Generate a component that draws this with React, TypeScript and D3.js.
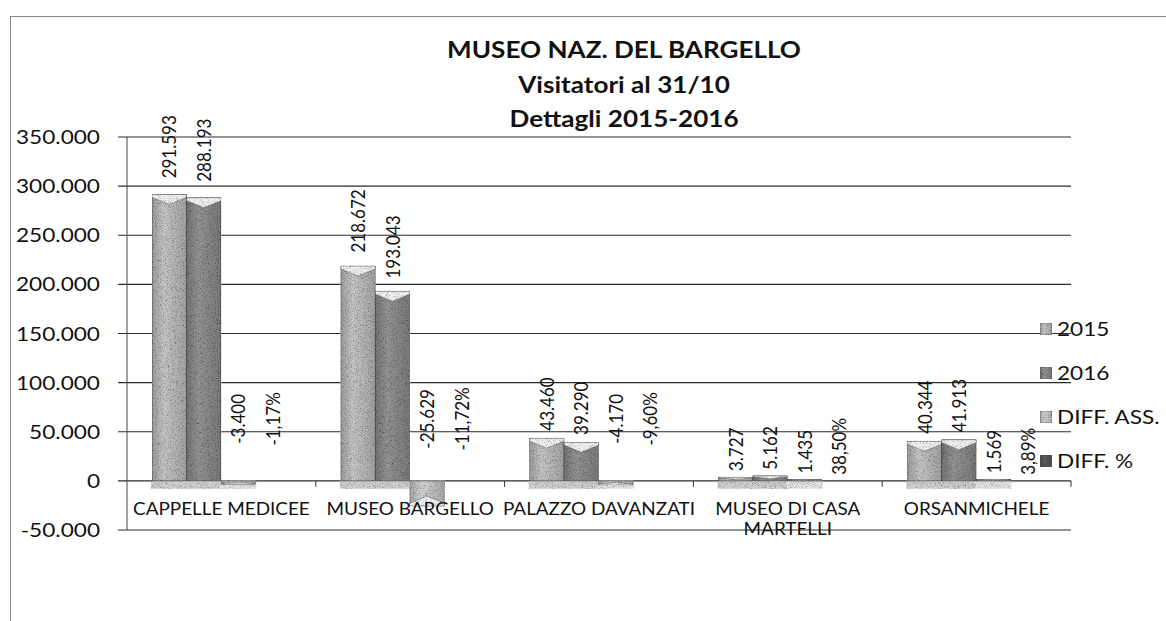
import React, { useMemo } from 'react';
import * as d3 from 'd3';

// chart data
const CATEGORIES = ['CAPPELLE MEDICEE', 'MUSEO BARGELLO', 'PALAZZO DAVANZATI', 'MUSEO DI CASA MARTELLI', 'ORSANMICHELE'];
const SERIES = ['2015', '2016', 'DIFF. ASS.', 'DIFF. %'];
const VISITORS_2015 = [291593, 218672, 43460, 3727, 40344];
const VISITORS_2016 = [288193, 193043, 39290, 5162, 41913];
const DIFF_ASS = [-3400, -25629, -4170, 1435, 1569];
const DIFF_PCT = [-1.17, -11.72, -9.6, 38.5, 3.89];
const Y_TICKS = [-50000, 0, 50000, 100000, 150000, 200000, 250000, 300000, 350000];
const TITLE = ['MUSEO NAZ. DEL BARGELLO', 'Visitatori al 31/10', 'Dettagli 2015-2016'];

const W = 1166;
const H = 621;
const SX = 1.16; // the scan is stretched sideways, so is the text
const FONT = 'Lato, "Open Sans", sans-serif';

const SERIES_FILL: Record<string, string> = {
  '2015': '#bcbcbc',
  '2016': '#8c8c8c',
  'DIFF. ASS.': '#c8c8c8',
  'DIFF. %': '#5a5a5a',
};

const it = d3.formatLocale({ decimal: ',', thousands: '.', grouping: [3], currency: ['€', ''], minus: '-' });
const fmtInt = it.format(',d');
const fmtPct = (v: number) => it.format('.2f')(v) + '%';

const rows = CATEGORIES.map((c, i) => ({
  cat: c,
  values: [
    { key: '2015', v: VISITORS_2015[i], label: fmtInt(VISITORS_2015[i]) },
    { key: '2016', v: VISITORS_2016[i], label: fmtInt(VISITORS_2016[i]) },
    { key: 'DIFF. ASS.', v: DIFF_ASS[i], label: fmtInt(DIFF_ASS[i]) },
    { key: 'DIFF. %', v: DIFF_PCT[i], label: fmtPct(DIFF_PCT[i]) },
  ],
}));

const CAT_FS = 16.3;

function wrapLabel(text: string, maxW: number): string[] {
  const ctx = document.createElement('canvas').getContext('2d');
  if (!ctx) return [text];
  ctx.font = `${CAT_FS}px Lato`;
  const words = text.split(' ');
  const lines: string[] = [];
  let cur = '';
  words.forEach(w => {
    const test = cur ? cur + ' ' + w : w;
    if (cur && ctx.measureText(test).width * SX > maxW) {
      lines.push(cur);
      cur = w;
    } else cur = test;
  });
  lines.push(cur);
  return lines;
}

const App = () => {
  const x = d3.scaleBand().domain(CATEGORIES).range([127, 1071]).padding(0);
  const bw = x.bandwidth();
  const inner = d3.scaleBand().domain(SERIES).range([25, 25 + 4 * 34.5]).padding(0);
  const y = d3.scaleLinear().domain([-50000, 350000]).range([530, 137]);
  const y0 = y(0);

  // labels only wrap when clearly wider than the category slot
  const catLines = useMemo(() => CATEGORIES.map(c => wrapLabel(c, bw * 1.06)), [bw]);

  const stretched = (tx: number, ty: number, rot = false) =>
    `translate(${tx},${ty}) scale(${SX},1)${rot ? ' rotate(-90)' : ''}`;

  return (
    <svg width={W} height={H} style={{ position: 'absolute', left: 0, top: 0, background: '#fff' }}
      fontFamily={FONT}>
      <defs>
        <filter id="grain" x="0" y="0" width="100%" height="100%">
          <feTurbulence type="fractalNoise" baseFrequency="1.4" numOctaves="2" seed="7" result="noise" />
          <feColorMatrix in="noise" type="matrix"
            values="0.33 0.33 0.33 0 0  0.33 0.33 0.33 0 0  0.33 0.33 0.33 0 0  0 0 0 0 1" result="gray" />
          <feComponentTransfer in="gray" result="g2">
            <feFuncR type="linear" slope="3" intercept="-0.55" />
            <feFuncG type="linear" slope="3" intercept="-0.55" />
            <feFuncB type="linear" slope="3" intercept="-0.55" />
          </feComponentTransfer>
          <feBlend in="SourceGraphic" in2="g2" mode="multiply" result="b" />
          <feComposite in="b" in2="SourceGraphic" operator="in" />
        </filter>
        {SERIES.map((s, i) => (
          <linearGradient key={s} id={`bar${i}`} x1="0" x2="1" y1="0" y2="0">
            <stop offset="0%" stopColor={d3.color(SERIES_FILL[s])!.darker(0.5).formatHex()} />
            <stop offset="35%" stopColor={d3.color(SERIES_FILL[s])!.brighter(0.15).formatHex()} />
            <stop offset="100%" stopColor={d3.color(SERIES_FILL[s])!.darker(0.4).formatHex()} />
          </linearGradient>
        ))}
      </defs>

      {/* chart frame */}
      <rect x={10.5} y={16.5} width={1160} height={700} fill="none" stroke="#8a8a8a" strokeWidth={1} />

      {/* title */}
      {TITLE.map((t, i) => (
        <text key={t} transform={stretched(624, 58 + i * 34.5)} textAnchor="middle"
          fontSize={22.5} fontWeight="bold" fill="#111">{t}</text>
      ))}

      {/* gridlines and value axis */}
      {Y_TICKS.map(t => (
        <g key={t}>
          <line x1={118} x2={1071} y1={y(t)} y2={y(t)} stroke="#2a2a2a" strokeWidth={1.1} />
          <text transform={stretched(100, y(t))} dy="0.36em" textAnchor="end" fontSize={19.5} fill="#111">
            {fmtInt(t)}
          </text>
        </g>
      ))}
      <line x1={127} x2={127} y1={y(350000)} y2={y(-50000)} stroke="#444" strokeWidth={1} />
      {CATEGORIES.map(c => (
        <line key={c} x1={x(c)! + bw} x2={x(c)! + bw} y1={y0} y2={y0 + 6} stroke="#333" strokeWidth={1} />
      ))}

      {/* floor shadow under the columns */}
      <g filter="url(#grain)">
        {rows.map(r => r.values.filter(d => d.key !== 'DIFF. %').map(d => {
          const bx = x(r.cat)! + inner(d.key)!;
          return (
            <rect key={r.cat + d.key} x={bx - 1} y={y0 + 1} width={inner.bandwidth() + 2} height={7}
              fill={d.key === 'DIFF. ASS.' ? '#e6e6e6' : '#d0d0d0'} />
          );
        }))}
      </g>

      {/* columns */}
      <g filter="url(#grain)">
        {rows.map(r => r.values.map((d, si) => {
          const bx = x(r.cat)! + inner(d.key)!;
          const w = inner.bandwidth();
          const top = Math.min(y(d.v), y0);
          const h = Math.abs(y(d.v) - y0);
          if (h < 0.5) return null;
          const capH = Math.min(10, h * 0.6);
          const edge = d.v >= 0 ? top : top + h;
          const dir = d.v >= 0 ? 1 : -1;
          const cap = [
            [bx, edge], [bx + w, edge], [bx + w, edge + dir * capH * 0.3],
            [bx + w / 2, edge + dir * capH], [bx, edge + dir * capH * 0.3],
          ].map(p => p.join(',')).join(' ');
          return (
            <g key={r.cat + d.key}>
              <rect x={bx} y={top} width={w} height={h} fill={`url(#bar${si})`}
                stroke="#3a3a3a" strokeWidth={0.7} />
              <polygon points={cap} fill="#f2f2f2" stroke="#555" strokeWidth={0.5} />
            </g>
          );
        }))}
      </g>

      {/* data labels */}
      {rows.map(r => r.values.map(d => {
        const cx = x(r.cat)! + inner(d.key)! + inner.bandwidth() / 2;
        if (d.v >= 0) {
          const yt = y(d.v);
          const start = yt - 6 - 0.035 * (y0 - yt);
          return (
            <text key={r.cat + d.key} transform={stretched(cx, start, true)} dy="0.36em"
              textAnchor="start" fontSize={17} fill="#111">{d.label}</text>
          );
        }
        return (
          <text key={r.cat + d.key} transform={stretched(cx, y0 - 62, true)} dy="0.36em"
            textAnchor="middle" fontSize={17} fill="#111">{d.label}</text>
        );
      }))}

      {/* category labels */}
      {CATEGORIES.map((c, i) => (
        <text key={c} textAnchor="middle" fontSize={CAT_FS} fill="#111"
          transform={stretched(x(c)! + bw / 2, 515)}>
          {catLines[i].map((l, j) => (
            <tspan key={j} x={0} dy={j === 0 ? 0 : 20}>{l}</tspan>
          ))}
        </text>
      ))}

      {/* legend */}
      {SERIES.map((s, i) => {
        const ly = 329 + i * 44;
        return (
          <g key={s}>
            <rect x={1040} y={ly - 6} width={12} height={12} fill={`url(#bar${i})`} stroke="#555"
              strokeWidth={0.6} filter="url(#grain)" />
            <text transform={stretched(1057, ly)} dy="0.36em" fontSize={19.5} fill="#111">{s}</text>
          </g>
        );
      })}
    </svg>
  );
};

export default App;
